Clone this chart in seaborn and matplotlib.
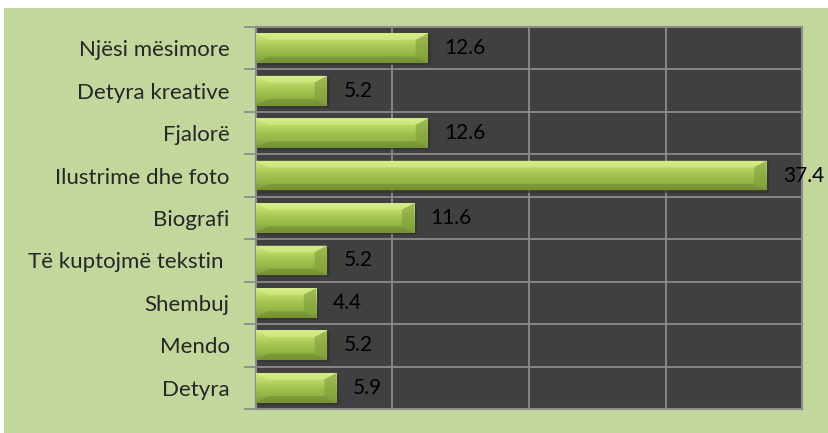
import numpy as np
import pandas as pd
import matplotlib
matplotlib.use("Agg")
import matplotlib.pyplot as plt
import seaborn as sns
from matplotlib.colors import LinearSegmentedColormap
from matplotlib.patches import Rectangle, Polygon

# data (top to bottom)
categories = ["Njësi mësimore", "Detyra kreative", "Fjalorë", "Ilustrime dhe foto",
              "Biografi", "Të kuptojmë tekstin ", "Shembuj", "Mendo", "Detyra"]
values = [12.6, 5.2, 12.6, 37.4, 11.6, 5.2, 4.4, 5.2, 5.9]
value_labels = ["12.6", "5.2", "12.6", "37.4", "11.6", "5.2", "4.4", "5.2", "5.9"]

df = pd.DataFrame({"category": categories, "value": values})

sns.set_style("white")
plt.rcParams["font.family"] = ["Lato", "DejaVu Sans"]

bg = "#c3d69b"
plot_bg = "#404040"
grid_col = "#8c8c8c"

fig = plt.figure(figsize=(8.29, 4.33), dpi=100)
fig.patch.set_facecolor("white")
# green chart area (white strip on top and left like the source)
fig.add_artist(Rectangle((4 / 829, 0), 1, 1 - 8 / 433, transform=fig.transFigure,
                         facecolor=bg, edgecolor="none", zorder=-10))

ax = fig.add_axes([256 / 829, 1 - 409 / 433, (802 - 256) / 829, (409 - 27) / 433])
ax.set_facecolor(plot_bg)

sns.barplot(data=df, x="value", y="category", orient="h", color="#9bbb59",
            width=0.7, saturation=1, ax=ax, zorder=3)

ax.set_xlim(0, 40)
ax.set_ylim(len(categories) - 0.5, -0.5)

# gradient + bevel look on each bar
cmap = LinearSegmentedColormap.from_list(
    "bar", ["#d2ea80", "#bcd866", "#a3c250", "#93b446", "#7d9a3c"])
grad = np.linspace(0, 1, 64).reshape(-1, 1)
for p in ax.patches:
    x0, y0 = p.get_x(), p.get_y()
    w, h = p.get_width(), p.get_height()
    # shadow
    ax.add_patch(Rectangle((x0, y0 + 0.05), w + 0.2, h, facecolor="#333333",
                           edgecolor="none", zorder=2, alpha=0.7))
    im = ax.imshow(grad, extent=(x0, x0 + w, y0 + h, y0), aspect="auto",
                   cmap=cmap, zorder=4, interpolation="bicubic")
    im.set_clip_path(p)
    bev_x = min(0.9, w * 0.25)
    bev_y = h * 0.22
    # top bevel (lighter)
    ax.add_patch(Polygon([(x0, y0), (x0 + w, y0), (x0 + w - bev_x, y0 + bev_y),
                          (x0 + bev_x, y0 + bev_y)], closed=True,
                         facecolor="#dcf090", edgecolor="none", alpha=0.55, zorder=5))
    # bottom bevel (darker)
    ax.add_patch(Polygon([(x0, y0 + h), (x0 + w, y0 + h), (x0 + w - bev_x, y0 + h - bev_y),
                          (x0 + bev_x, y0 + h - bev_y)], closed=True,
                         facecolor="#6b8a2e", edgecolor="none", alpha=0.5, zorder=5))
    # right bevel (darker)
    ax.add_patch(Polygon([(x0 + w, y0), (x0 + w, y0 + h), (x0 + w - bev_x, y0 + h - bev_y),
                          (x0 + w - bev_x, y0 + bev_y)], closed=True,
                         facecolor="#7e9e3a", edgecolor="none", alpha=0.6, zorder=5))
    p.set_visible(False)

# value labels
for i, (v, lab) in enumerate(zip(values, value_labels)):
    ax.text(v + 1.2, i, lab, va="center", ha="left", fontsize=15,
            color="black", zorder=6, clip_on=False)

# grid: vertical at 10s, horizontal at category boundaries
for gx in [10, 20, 30]:
    ax.axvline(gx, color=grid_col, lw=1.3, zorder=1)
for b in np.arange(0.5, len(categories) - 0.5, 1):
    ax.axhline(b, color=grid_col, lw=1.3, zorder=1)

ax.set_xticks([])
ax.set_yticks(np.arange(-0.5, len(categories), 1), minor=False)
ax.set_yticklabels([])
ax.tick_params(axis="y", length=9, width=1.3, color=grid_col, left=True)
ax.set_yticks(range(len(categories)), minor=True)
ax.set_yticklabels(categories, minor=True, fontsize=16)
ax.tick_params(axis="y", which="minor", length=0, pad=19)
ax.set_xlabel("")
ax.set_ylabel("")

for side in ["top", "right", "bottom", "left"]:
    ax.spines[side].set_color(grid_col)
    ax.spines[side].set_linewidth(1.5)

fig.savefig("out.png", dpi=100, facecolor=fig.get_facecolor())
